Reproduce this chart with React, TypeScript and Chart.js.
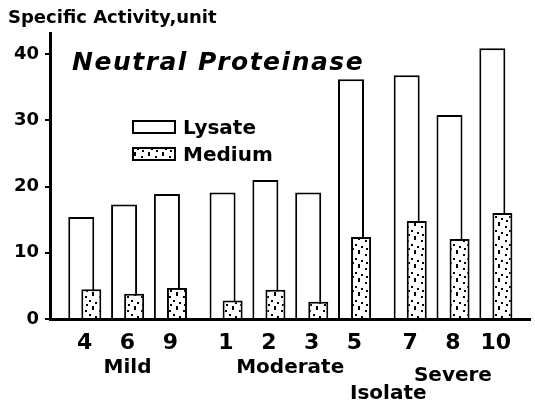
import React, { useEffect, useRef } from 'react';
import { Chart, registerables } from 'chart.js';

Chart.register(...registerables);

// ---- data ----
const isolates = ['4', '6', '9', '1', '2', '3', '5', '7', '8', '10'];
const groupOf = [0, 0, 0, 1, 1, 1, 1, 2, 2, 2];
const groupNames = ['Mild', 'Moderate', 'Severe'];
const lysate = [15.4, 17.3, 18.9, 19.1, 21.0, 19.1, 36.2, 36.8, 30.8, 40.9];
const medium = [4.5, 3.8, 4.7, 2.8, 4.4, 2.6, 12.4, 14.8, 12.1, 16.0];
const yTicks = [0, 10, 20, 30, 40];
const seriesNames = ['Lysate', 'Medium'];
const yTitle = 'Specific Activity,unit';
const chartTitle = 'Neutral Proteinase';
const xTitle = 'Isolate';

// ---- layout constants ----
const GROUP_GAP = 0.3;
const LYSATE_SHIFT = -0.08;
const MEDIUM_SHIFT = 0.155;
const positions = isolates.map((_, i) => i + groupOf[i] * GROUP_GAP);

const FONT = 'DejaVu Sans';

function makeStipple(ctx: CanvasRenderingContext2D) {
  const tile = document.createElement('canvas');
  tile.width = 14;
  tile.height = 14;
  const t = tile.getContext('2d')!;
  t.fillStyle = '#fff';
  t.fillRect(0, 0, 14, 14);
  t.fillStyle = '#000';
  const dots = [[1, 2], [8, 0], [5, 6], [11, 8], [2, 10], [8, 12]];
  dots.forEach(([x, y]) => t.fillRect(x, y, 2, 2));
  return ctx.createPattern(tile, 'repeat');
}

const annotations = {
  id: 'annotations',
  afterDraw(chart: any) {
    const { ctx, chartArea, scales } = chart;
    ctx.save();
    ctx.fillStyle = '#000';
    ctx.strokeStyle = '#000';
    ctx.textAlign = 'left';
    ctx.textBaseline = 'alphabetic';

    ctx.font = `bold 18px "${FONT}"`;
    ctx.fillText(yTitle, 8, 23);

    ctx.font = `italic bold 25px "${FONT}"`;
    (ctx as any).letterSpacing = '1.5px';
    ctx.fillText(chartTitle, chartArea.left + 22, chartArea.top + 37);
    (ctx as any).letterSpacing = '0px';

    // legend
    const ds = chart.data.datasets;
    ctx.font = `bold 20px "${FONT}"`;
    seriesNames.forEach((name, i) => {
      const bx = chartArea.left + 82;
      const by = chartArea.top + 87 + i * 27;
      ctx.fillStyle = ds[i].backgroundColor;
      ctx.fillRect(bx, by, 44, 14);
      ctx.lineWidth = 2;
      ctx.strokeRect(bx + 1, by + 1, 42, 12);
      ctx.fillStyle = '#000';
      ctx.fillText(name, bx + 51, by + 14);
    });

    // group labels
    ctx.textAlign = 'center';
    ctx.font = `bold 20px "${FONT}"`;
    groupNames.forEach((g, gi) => {
      const ps = positions.filter((_, i) => groupOf[i] === gi);
      const c = (ps[0] + ps[ps.length - 1]) / 2;
      const y = chartArea.bottom + (gi === 2 ? 62 : 54);
      ctx.fillText(g, scales.x.getPixelForValue(c), y);
    });
    const lastMod = positions[groupOf.lastIndexOf(1)];
    const firstSev = positions[groupOf.indexOf(2)];
    ctx.fillText(xTitle, scales.x.getPixelForValue((lastMod + firstSev) / 2) + 6, chartArea.bottom + 80);
    ctx.restore();
  },
};

export default function App() {
  const ref = useRef<HTMLCanvasElement>(null);
  useEffect(() => {
    const canvas = ref.current!;
    const ctx = canvas.getContext('2d')!;
    const stipple = makeStipple(ctx);
    const chart = new Chart(canvas, {
      type: 'bar',
      data: {
        datasets: [
          {
            label: seriesNames[0],
            data: positions.map((p, i) => ({ x: p + LYSATE_SHIFT, y: lysate[i] })),
            backgroundColor: '#fff',
            borderColor: '#000',
            borderWidth: 2,
            grouped: false,
            barPercentage: 4,
            categoryPercentage: 1,
            maxBarThickness: 26,
            order: 1,
          },
          {
            label: seriesNames[1],
            data: positions.map((p, i) => ({ x: p + MEDIUM_SHIFT, y: medium[i] })),
            backgroundColor: stipple as any,
            borderColor: '#000',
            borderWidth: 2,
            grouped: false,
            barPercentage: 4,
            categoryPercentage: 1,
            maxBarThickness: 20,
            order: 0,
          },
        ] as any,
      },
      options: {
        animation: false,
        responsive: true,
        maintainAspectRatio: false,
        layout: { padding: { top: 33, right: 5, left: 0, bottom: 0 } },
        plugins: { legend: { display: false }, tooltip: { enabled: false }, title: { display: false } },
        scales: {
          x: {
            type: 'linear',
            min: -0.81,
            max: 10.4,
            offset: false,
            grid: { display: true, drawOnChartArea: false, drawTicks: false, offset: false },
            border: { display: true, color: '#000', width: 3 },
            afterBuildTicks: (scale: any) => {
              scale.ticks = positions.map((v) => ({ value: v }));
            },
            ticks: {
              autoSkip: false,
              maxRotation: 0,
              padding: 11,
              color: '#000',
              font: { family: FONT, weight: 'bold', size: 22 },
              callback: (_v: any, i: number) => isolates[i],
            },
            afterFit: (scale: any) => {
              scale.height = 86;
            },
          },
          y: {
            type: 'linear',
            min: 0,
            max: 43.2,
            afterBuildTicks: (scale: any) => {
              scale.ticks = yTicks.map((v) => ({ value: v }));
            },
            grid: { display: true, drawOnChartArea: false, drawTicks: true, tickLength: 5, color: '#000', lineWidth: 2 },
            border: { display: true, color: '#000', width: 3 },
            ticks: {
              padding: 6,
              color: '#000',
              font: { family: FONT, weight: 'bold', size: 18 },
            },
            afterFit: (scale: any) => {
              scale.width = 50;
            },
          },
        } as any,
      },
      plugins: [annotations],
    });
    return () => chart.destroy();
  }, []);
  return (
    <div style={{ position: 'fixed', left: 0, top: 0, width: 535, height: 405, background: '#fff' }}>
      <canvas ref={ref} />
    </div>
  );
}
